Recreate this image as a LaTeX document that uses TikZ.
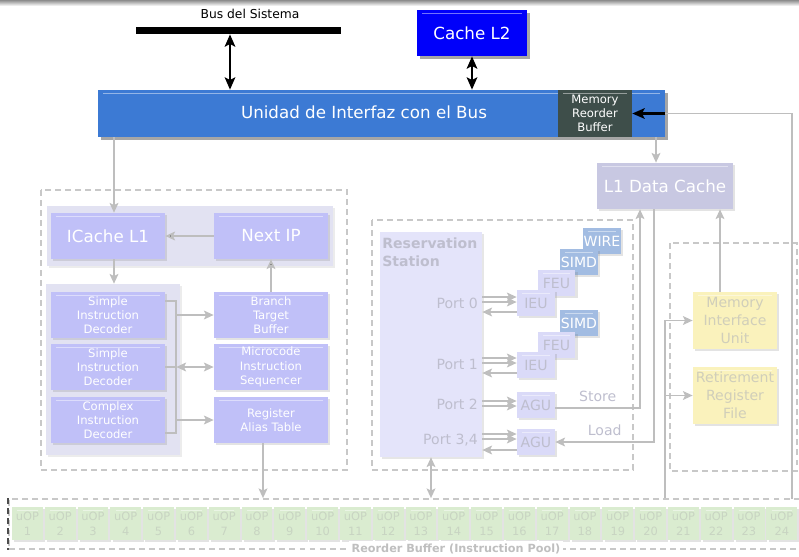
\documentclass[tikz,border=0pt]{standalone}
\usepackage{fontspec}
\setmainfont{DejaVu Sans}
\usepackage{xcolor}
\usetikzlibrary{shadows,positioning,arrows.meta}

\definecolor{biublue}{RGB}{60,122,212}
\definecolor{l2blue}{RGB}{0,0,250}
\definecolor{mrbgray}{RGB}{62,78,74}
\definecolor{lav}{RGB}{192,192,248}
\definecolor{lavpanel}{RGB}{226,226,242}
\definecolor{rsfill}{RGB}{228,228,250}
\definecolor{l1dgray}{RGB}{200,200,226}
\definecolor{eufill}{RGB}{218,218,248}
\definecolor{eutext}{RGB}{190,190,206}
\definecolor{simdfill}{RGB}{162,188,226}
\definecolor{yelfill}{RGB}{250,242,188}
\definecolor{yeltext}{RGB}{208,206,186}
\definecolor{uopfill}{RGB}{218,236,208}
\definecolor{uoptext}{RGB}{200,212,194}
\definecolor{wiregray}{RGB}{190,190,190}
\definecolor{dashgray}{RGB}{200,200,200}

\newcommand{\txtbig}{\fontsize{9.5}{11.5}\selectfont}
\newcommand{\txtmid}{\fontsize{8}{10.3}\selectfont}
\newcommand{\txtsmall}{\fontsize{6.6}{8.1}\selectfont}
\newcommand{\txttiny}{\fontsize{6.5}{8.4}\selectfont}
\newcommand{\txtbus}{\fontsize{7}{8.5}\selectfont}

\begin{document}
\begin{tikzpicture}[x=0.02cm, y=-0.02cm,
    gloss/.style={rectangle, inner sep=0pt, align=center,
      path picture={\draw[white, opacity=.45, line width=.7pt]
        ([xshift=3pt,yshift=-2.2pt]path picture bounding box.north west) --
        ([xshift=-3pt,yshift=-2.2pt]path picture bounding box.north east);}},
    box/.style={gloss, drop shadow={shadow xshift=1.3pt, shadow yshift=-1.3pt, opacity=.22}},
    hardbox/.style={gloss, drop shadow={shadow xshift=1.5pt, shadow yshift=-1.5pt, opacity=.7}},
    lavbox/.style={box, fill=lav, text=white, font=\txtbig, minimum width=2.28cm, minimum height=0.92cm},
    decbox/.style={lavbox, font=\txtsmall},
    eubox/.style={box, fill=eufill, text=eutext, font=\txtmid, minimum width=0.76cm, minimum height=0.52cm},
    simdbox/.style={eubox, fill=simdfill, text=white},
    yelbox/.style={box, fill=yelfill, text=yeltext, font=\txtmid, minimum width=1.68cm, minimum height=1.14cm},
    uop/.style={box, fill=uopfill, text=uoptext, font=\txttiny, minimum width=0.62cm, minimum height=0.66cm},
    panel/.style={rectangle, inner sep=0pt, fill=lavpanel, drop shadow={shadow xshift=1.3pt, shadow yshift=-1.3pt, opacity=.15}},
    group/.style={draw=dashgray, dash pattern=on 3.4pt off 2.3pt, line width=1pt},
    wire/.style={draw=wiregray, line width=1pt},
    garrow/.style={wire, ->, >={Stealth[length=5.5pt, width=5pt, inset=1.2pt]}},
    barrow/.style={draw=black, line width=1.3pt, <->, >={Stealth[length=7pt, width=6pt, inset=1.5pt]}}]

    \useasboundingbox (0,0) rectangle (799,556);
    \shade[top color=black!45, bottom color=white] (0,0) rectangle (799,6);

    % system bus and L2
    \node[font=\txtbus] (buslabel) at (250,14) {Bus del Sistema};
    \node[fill=black, inner sep=0pt, minimum width=4.1cm, minimum height=0.14cm] (bus) at (238.5,30.5) {};
    \node[hardbox, fill=l2blue, text=white, font=\txtbig, minimum width=2.2cm, minimum height=0.92cm] (l2) at (472,33) {Cache L2};

    \node[hardbox, fill=biublue, minimum width=11.34cm, minimum height=0.94cm] (biu) at (381.5,113.5) {};
    \node[text=white, font=\txtbig] (biutext) at (364,112) {Unidad de Interfaz con el Bus};
    \node[gloss, fill=mrbgray, text=white, font=\txtsmall, minimum width=1.48cm, minimum height=0.94cm] (mrb) at (595,113.5) {Memory\\Reorder\\Buffer};

    \node[box, fill=l1dgray, text=white, font=\txtbig, minimum width=2.72cm, minimum height=0.92cm] (l1d) at (665,186) {L1 Data Cache};

    % front end
    \draw[group] (41,190) rectangle (347,470);
    \node[panel, minimum width=5.72cm, minimum height=1.2cm] (toppanel) at (190,236) {};
    \node[panel, minimum width=2.68cm, minimum height=3.42cm] (decpanel) at (113,369.5) {};
    \node[lavbox] (icache) at (108,236) {ICache L1};
    \node[lavbox] (nextip) at (271,236) {Next IP};
    \node[decbox] (dec1) at (108,315) {Simple\\Instruction\\Decoder};
    \node[decbox] (dec2) at (108,367) {Simple\\Instruction\\Decoder};
    \node[decbox] (dec3) at (108,420) {Complex\\Instruction\\Decoder};
    \node[decbox] (btb) at (271,315) {Branch\\Target\\Buffer};
    \node[decbox] (mis) at (271,367) {Microcode\\Instruction\\Sequencer};
    \node[decbox] (rat) at (271,420) {Register\\Alias Table};
    \coordinate (brk) at ([xshift=0.22cm]dec1.east);

    % execution core
    \draw[group] (372,220) rectangle (633,470);
    \node[rectangle, fill=rsfill, minimum width=2.04cm, minimum height=4.5cm,
      drop shadow={shadow xshift=1.3pt, shadow yshift=-1.3pt, opacity=.2}] (rs) at (431,344.5) {};
    \node[anchor=north west, text=eutext, font=\bfseries\txtmid, align=left, inner sep=0pt] (rslabel) at (382,237) {Reservation\\Station};
    \node[anchor=east, text=eutext, font=\txtmid, inner sep=1pt] (p0) at (480,303) {Port 0};
    \node[anchor=east, text=eutext, font=\txtmid, inner sep=1pt] (p1) at (480,364) {Port 1};
    \node[anchor=east, text=eutext, font=\txtmid, inner sep=1pt] (p2) at (480,404) {Port 2};
    \node[anchor=east, text=eutext, font=\txtmid, inner sep=1pt] (p34) at (480,440) {Port 3,4};

    \node[simdbox] (wireu) at (602,241) {WIRE};
    \node[simdbox] (simd1) at (579,262) {SIMD};
    \node[eubox] (feu1) at (556.5,283) {FEU};
    \node[eubox] (ieu1) at (536,303) {IEU};
    \node[simdbox] (simd2) at (579,323) {SIMD};
    \node[eubox] (feu2) at (556.5,345) {FEU};
    \node[eubox] (ieu2) at (536,365) {IEU};
    \node[eubox] (agu1) at (536,405) {AGU};
    \node[eubox] (agu2) at (536,442) {AGU};

    % retirement
    \draw[group] (670,243) rectangle (797,471);
    \node[yelbox] (miu) at (735,320.5) {Memory\\Interface\\Unit};
    \node[yelbox] (rrf) at (735,395.5) {Retirement\\Register\\File};

    % reorder buffer
    \node[group, inner sep=0pt, minimum width=15.92cm, minimum height=1cm] (rob) at (407,524) {};
    \draw[black!70, dash pattern=on 3.4pt off 2.3pt, line width=1pt] (rob.north west) -- (rob.south west);
    \foreach \i in {1,...,24}
        \node[uop] (u\i) at ({27.4+32.8*(\i-1)},523.5) {uOP\\\i};
    \node[fill=white, text=black!25, font=\bfseries\fontsize{6.4}{7}\selectfont, inner sep=1.5pt] (roblabel) at (456,549) {Reorder Buffer (Instruction Pool)};

    % connectors
    \draw[barrow] ([xshift=-0.17cm]bus.south) -- ([xshift=-0.17cm]bus.south |- biu.north);
    \draw[barrow] (l2.south) -- (l2.south |- biu.north);
    \coordinate (robr) at (792,499);
    \draw[wire] (robr) |- (biu.east);
    \draw[barrow, <-] (mrb.east) -- (biu.east);
    \draw[garrow] ([xshift=-0.18cm]l1d.north |- biu.south) -- ([xshift=-0.18cm]l1d.north);
    \draw[garrow] ([xshift=0.12cm]icache.north |- biu.south) -- ([xshift=0.12cm]icache.north);

    \path[garrow]
        (nextip) edge (icache)
        (btb) edge (nextip);
    \draw[garrow] ([xshift=0.12cm]icache.south) -- ([xshift=0.12cm]icache.south |- decpanel.north);
    \draw[wire] ([yshift=0.28cm]dec1.east) -| (brk) |- ([yshift=-0.26cm]dec3.east);
    \draw[wire] (dec2.east) -- (brk |- dec2.east);
    \draw[garrow] (brk |- btb.west) -- (btb.west);
    \draw[garrow, <->] (brk |- mis.west) -- (mis.west);
    \draw[garrow] (brk |- rat.west) -- (rat.west);
    \draw[garrow] ([xshift=-0.16cm]rat.south) -- ([xshift=-0.16cm]rat.south |- rob.north);

    \foreach \u/\s in {ieu1/0.12, ieu1/0.02, ieu2/0.14, ieu2/0.04, agu1/0.08, agu1/-0.02, agu2/0.16, agu2/0.06}
        \draw[garrow] ([yshift=\s cm]\u.west -| rs.east) -- ([yshift=\s cm]\u.west);
    \foreach \u/\s in {ieu1/-0.18, ieu2/-0.16, agu2/-0.16}
        \draw[garrow] ([yshift=\s cm]\u.west) -- ([yshift=\s cm]\u.west -| rs.east);

    \draw[garrow] ([yshift=-0.06cm]agu1.east) -| ([xshift=-0.5cm]l1d.south)
        node[pos=0.25, above, text=eutext, font=\txtmid] {Store};
    \draw[garrow] ([xshift=-0.22cm]l1d.south) |- (agu2.east)
        node[pos=0.75, above, text=eutext, font=\txtmid] {Load};
    \draw[garrow, <->] (rs.south) -- (rs.south |- rob.north);

    \draw[garrow] ([xshift=-0.3cm]miu.north) -- ([xshift=-0.3cm]miu.north |- l1d.south);
    \draw[garrow] ([xshift=-0.56cm]miu.west |- rob.north) |- (miu.west);
    \draw[garrow] ([xshift=-0.56cm]rrf.west) -- (rrf.west);
\end{tikzpicture}
\end{document}
